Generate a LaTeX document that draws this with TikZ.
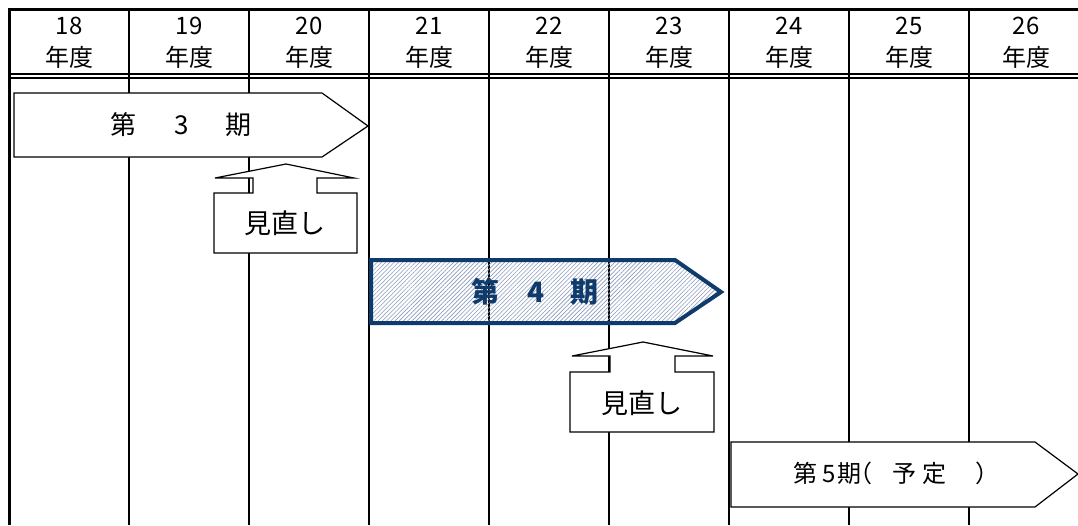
\documentclass[tikz,border=0pt]{standalone}
\usepackage{fontspec}
\setmainfont{Noto Sans CJK JP}
\usetikzlibrary{patterns.meta}
\definecolor{navy}{RGB}{14,58,108}
\definecolor{hatchc}{RGB}{140,155,188}
\begin{document}
\begin{tikzpicture}[x=1pt,y=-1pt,
  frame/.style={line width=3pt},
  gridline/.style={line width=1.4pt},
  hdr/.style={align=center,inner sep=0pt,font=\fontsize{24}{32}\selectfont},
  phasebox/.style={draw=black,line width=1.2pt,fill=white},
  callout/.style={draw=black,line width=1.2pt,fill=white},
  lbl/.style={inner sep=0pt,font=\fontsize{26}{30}\selectfont},
  cur/.style={draw=navy,line width=4pt,line join=miter,
    pattern={Lines[angle=45,distance=3pt,line width=0.6pt]},pattern color=hatchc},
  curlbl/.style={inner sep=0pt,text=navy,font=\fontsize{28}{32}\selectfont\bfseries}
]
\useasboundingbox (0,0) rectangle (1078,525);
\fill[white] (0,0) rectangle (1078,525);
% column lines
\foreach \x in {129,249,369,489,609,729,849,969}
  \draw[gridline] (\x,9.5) -- (\x,525);
% frame
\draw[frame] (8,9.5) -- (1078,9.5);
\draw[frame] (9.5,8) -- (9.5,525);
\draw[line width=2pt] (9.5,74) -- (1078,74);
\draw[line width=1.2pt] (9.5,78) -- (1078,78);
% header
\node[hdr] (h18) at (69,43) {18\\年度};
\node[hdr] (h19) at (189,43) {19\\年度};
\node[hdr] (h20) at (309,43) {20\\年度};
\node[hdr] (h21) at (429,43) {21\\年度};
\node[hdr] (h22) at (549,43) {22\\年度};
\node[hdr] (h23) at (669,43) {23\\年度};
\node[hdr] (h24) at (789,43) {24\\年度};
\node[hdr] (h25) at (909,43) {25\\年度};
\node[hdr] (h26) at (1026,43) {26\\年度};
% phase 3
\draw[phasebox] (14,93) -- (322,93) -- (368,126) -- (322,157) -- (14,157) -- cycle;
\node[lbl] (p3) at (181,125) {第\hspace{38pt}3\hspace{36pt}期};
% review 1
\draw[callout] (214,253) -- (214,193) -- (253,193) -- (253,178) -- (215,178) -- (286,164)
  -- (354,178) -- (317,178) -- (317,193) -- (357,193) -- (357,253) -- cycle;
\node[lbl,font=\fontsize{27}{30}\selectfont] (r1) at (285,223) {見直し};
% phase 4
\draw[cur] (371,260) -- (675,260) -- (721,292) -- (675,323) -- (371,323) -- cycle;
\node[curlbl] (p4) at (535,292) {第\hspace{28pt}4\hspace{26pt}期};
% review 2
\draw[callout] (570,432) -- (570,372) -- (610,372) -- (610,356) -- (572,356) -- (643,342)
  -- (713,356) -- (675,356) -- (675,372) -- (714,372) -- (714,432) -- cycle;
\node[lbl,font=\fontsize{27}{30}\selectfont] (r2) at (642,403) {見直し};
% phase 5
\draw[phasebox] (731,442) -- (1035,442) -- (1078,474) -- (1035,507) -- (731,507) -- cycle;
\node[lbl,font=\fontsize{24}{28}\selectfont,anchor=west] (p5) at (793,473)
  {第\hspace{5pt}5\hspace{2pt}期\hspace{-13pt}（\hspace{20pt}予\hspace{6pt}定\hspace{29pt}）};
\end{tikzpicture}
\end{document}
